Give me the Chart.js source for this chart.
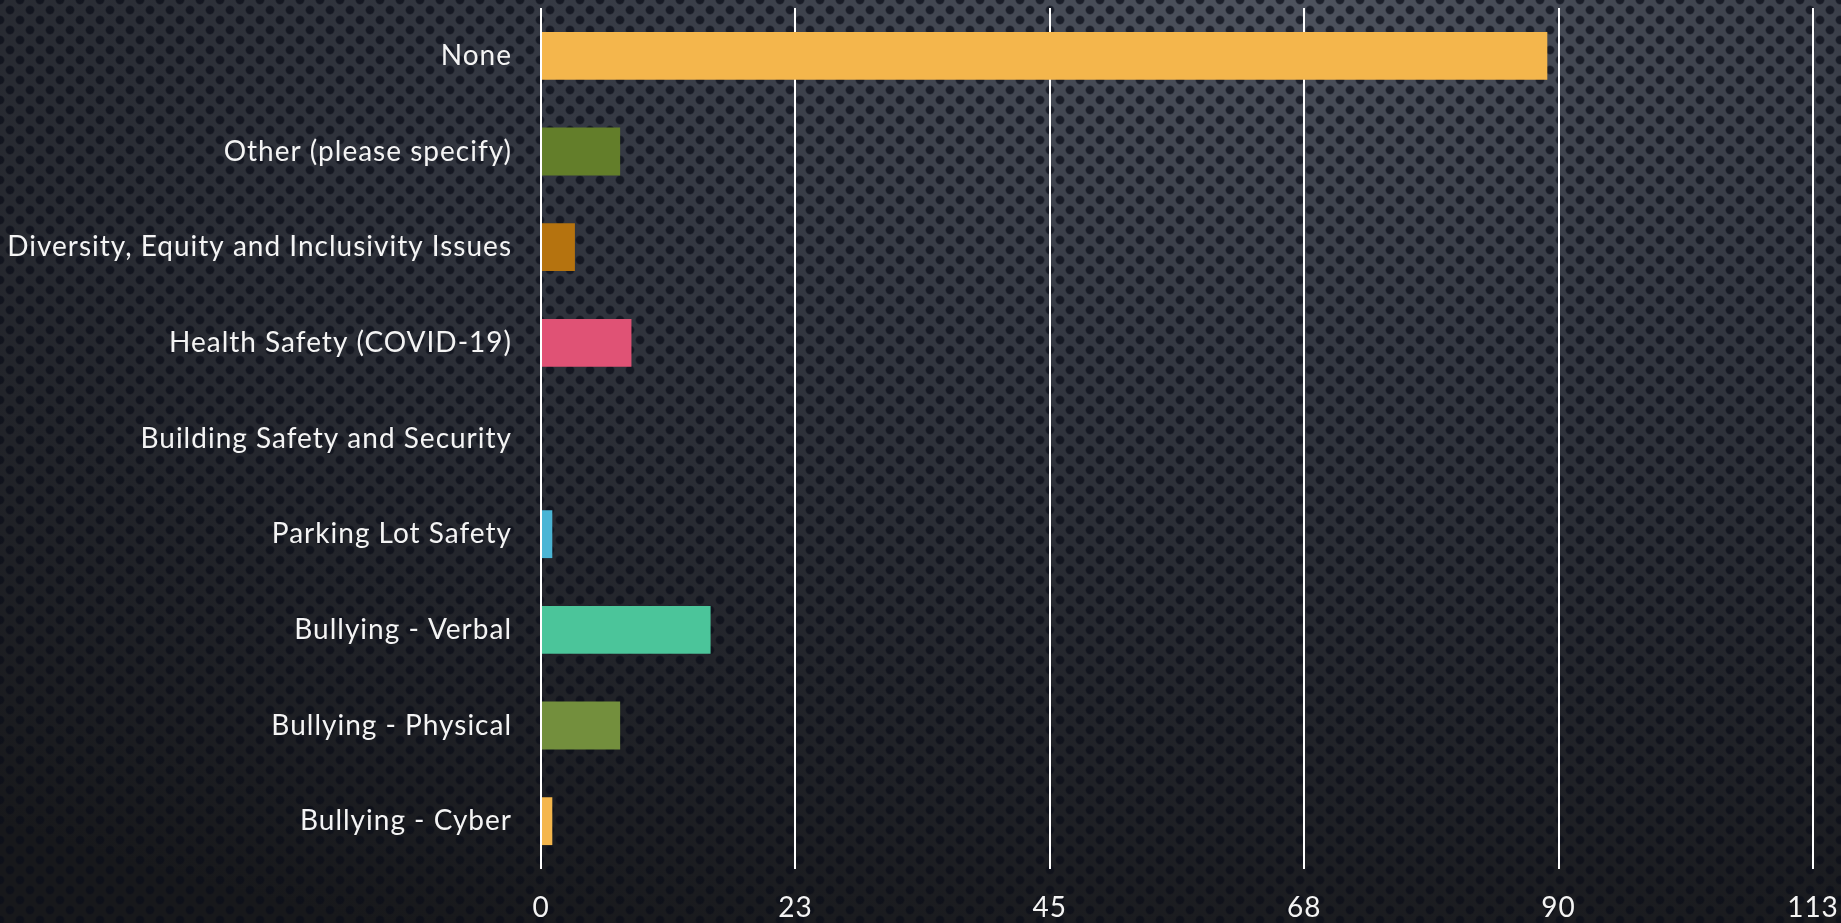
<!DOCTYPE html>
<html>
<head>
<meta charset="utf-8">
<script src="https://cdn.jsdelivr.net/npm/chart.js@4.4.1/dist/chart.umd.min.js"></script>
<style>
  html, body { margin: 0; padding: 0; width: 1841px; height: 923px; overflow: hidden; }
  body {
    background:
      radial-gradient(circle, rgba(10,13,24,0.72) 0, rgba(10,13,24,0.72) 3.5px, rgba(10,13,24,0) 5px) 0 0 / 20px 20px,
      radial-gradient(circle, rgba(10,13,24,0.72) 0, rgba(10,13,24,0.72) 3.5px, rgba(10,13,24,0) 5px) 10px 10px / 20px 20px,
      radial-gradient(ellipse 120% 110% at 70% 0%, #4e535e 0%, #343842 35%, #22242a 70%, #17181b 100%);
  }
  #wrap { position: absolute; left: 0; top: 0; width: 1841px; height: 923px; }
</style>
</head>
<body>
<div id="wrap"><canvas id="c"></canvas></div>
<script>
const categories = [
  'None',
  'Other (please specify)',
  'Diversity, Equity and Inclusivity Issues',
  'Health Safety (COVID-19)',
  'Building Safety and Security',
  'Parking Lot Safety',
  'Bullying - Verbal',
  'Bullying - Physical',
  'Bullying - Cyber'
];
const values = [89, 7, 3, 8, 0, 1, 15, 7, 1];
const barColors = ['#F4B64C', '#637E2A', '#B5730F', '#E05275', '#4BB5D5', '#4BB5D5', '#4BC59A', '#738F3D', '#F4B64C'];
const tickValues = [0, 22.5, 45, 67.5, 90, 112.5];
const tickLabels = ['0', '23', '45', '68', '90', '113'];

const FONT = { family: 'Lato, "DejaVu Sans", sans-serif', size: 28 };

const letterSpacingPlugin = {
  id: 'letterSpacing',
  beforeDraw(chart) { chart.ctx.letterSpacing = '1px'; }
};

new Chart(document.getElementById('c'), {
  type: 'bar',
  data: {
    labels: categories,
    datasets: [{
      data: values,
      backgroundColor: barColors,
      borderWidth: 0,
      categoryPercentage: 1,
      barPercentage: 0.5
    }]
  },
  plugins: [letterSpacingPlugin],
  options: {
    indexAxis: 'y',
    responsive: true,
    maintainAspectRatio: false,
    animation: false,
    layout: { padding: { top: 8, right: 28, bottom: 0, left: 0 } },
    plugins: { legend: { display: false }, tooltip: { enabled: false } },
    scales: {
      x: {
        min: tickValues[0],
        max: tickValues[tickValues.length - 1],
        afterBuildTicks: (scale) => { scale.ticks = tickValues.map(v => ({ value: v })); },
        afterFit: (scale) => { scale.height = 54; scale.paddingLeft = 0; scale.paddingRight = 0; },
        grid: { display: true, color: '#ffffff', lineWidth: 2, drawTicks: false },
        border: { display: false },
        ticks: {
          color: '#f4f4f4',
          font: FONT,
          padding: 22,
          maxRotation: 0,
          autoSkip: false,
          callback: (v, i) => tickLabels[i]
        }
      },
      y: {
        afterFit: (scale) => { scale.width = 541; scale.paddingTop = 0; scale.paddingBottom = 0; },
        grid: { display: false, drawTicks: false },
        border: { display: false },
        ticks: { color: '#f4f4f4', font: FONT, padding: 29, autoSkip: false }
      }
    }
  }
});
</script>
</body>
</html>
